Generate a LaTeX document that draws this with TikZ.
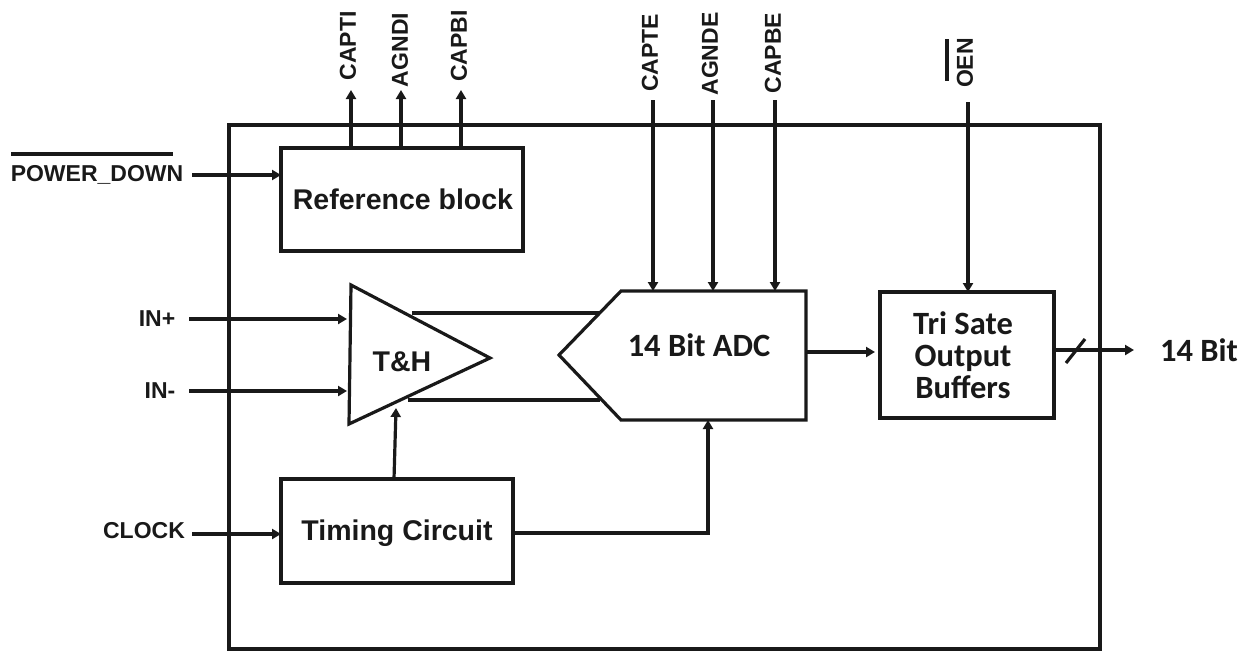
\documentclass[tikz,border=0pt]{standalone}
\usepackage{fontspec}
\setmainfont{Liberation Sans}
\newfontfamily\calib{Carlito}
\usetikzlibrary{arrows.meta}
\definecolor{ink}{gray}{0.1}
\tikzset{
 box/.style={draw=ink,line width=3.2pt,inner sep=0pt,outer sep=0pt,anchor=north west},
 line/.style={draw=ink,line width=3.2pt},
 arr/.style={line,-{Triangle[length=9pt,width=10pt]}},
 lab/.style={font=\bfseries\fontsize{23}{26}\selectfont,text=ink,inner sep=0pt},
 big/.style={font=\bfseries\fontsize{28.5}{32}\selectfont,text=ink,inner sep=0pt,align=center},
 cal/.style={font=\calib\bfseries\fontsize{32.5}{32}\selectfont,text=ink,inner sep=0pt,align=center},
}
\begin{document}
\begin{tikzpicture}[x=1pt,y=-1pt]
\useasboundingbox (0,0) rectangle (1257,654);
\node[box,minimum width=871,minimum height=524] (outer) at (229,125) {};
\node[box,minimum width=242,minimum height=103] (ref) at (281,148) {};
\node[big] (reft) at (403,199) {Reference block};
\node[box,minimum width=232,minimum height=104] (tim) at (281,479) {};
\node[big] (timt) at (397,533) {Timing Circuit};
\node[box,minimum width=174,minimum height=126] (tri) at (880,292) {};
\node[cal] (trit) at (963,355) {Tri Sate\\Output\\Buffers};
% ADC
\coordinate (a1) at (621,291); \coordinate (a2) at (806,291); \coordinate (a3) at (806,420);
\coordinate (a4) at (621,420); \coordinate (a5) at (559,355);
\draw[line] (a1)--(a2)--(a3)--(a4)--(a5)--cycle;
\node[cal] (adc) at (699,345) {14 Bit ADC};
% T&H
\coordinate (t1) at (351,285); \coordinate (t2) at (490,358); \coordinate (t3) at (349,424);
\draw[line] (t1)--(t2)--(t3)--cycle;
\node[big] (th) at (402,362) {T\&H};
\coordinate (l1a) at (412,313); \coordinate (l1b) at (600,313);
\coordinate (l2a) at (408,400); \coordinate (l2b) at (600,400);
\draw[line] (l1a)--(l1b); \draw[line] (l2a)--(l2b);
% labels
\node[lab] (pd) at (97,175) {POWER\_DOWN};
\coordinate (pda) at (11,154); \coordinate (pdb) at (173,154);
\draw[line] (pda)--(pdb);
\node[lab] (inp) at (157,319) {IN+};
\node[lab] (inm) at (160,391) {IN-};
\node[lab] (clk) at (144,531) {CLOCK};
\node[cal] (bit) at (1199,350) {14 Bit};
\foreach \n/\t/\x/\y in {capti/CAPTI/348/46,agndi/AGNDI/400/50,capbi/CAPBI/459/46,capte/CAPTE/650/53,agnde/AGNDE/710/54,capbe/CAPBE/773/53,oen/OEN/965/63}
 \node[lab,rotate=90] (\n) at (\x,\y) {\t};
\coordinate (oa) at (947,39); \coordinate (ob) at (947,81);
\draw[line] (oa)--(ob);
% arrows
\coordinate (c1e) at (351,90);
\coordinate (c2e) at (401,90);
\coordinate (c3e) at (461,90);
\draw[arr] (ref.north -| c1e)--(c1e); \draw[arr] (ref.north -| c2e)--(c2e); \draw[arr] (ref.north -| c3e)--(c3e);
\coordinate (d1) at (653,100);
\coordinate (d2) at (713,100);
\coordinate (d3) at (775,100);
\draw[arr] (d1)--(d1 |- a1); \draw[arr] (d2)--(d2 |- a1); \draw[arr] (d3)--(d3 |- a1);
\coordinate (o1) at (968,102);
\draw[arr] (o1)--(o1 |- tri.north);
\coordinate (p1) at (192,175);
\draw[arr] (p1)--(p1 -| ref.west);
\coordinate (i1) at (189,319); \coordinate (i1e) at (347,319);
\coordinate (i2) at (189,391); \coordinate (i2e) at (347,391);
\draw[arr] (i1)--(i1e); \draw[arr] (i2)--(i2e);
\coordinate (k1) at (192,534);
\draw[arr] (k1)--(k1 -| tim.west);
\coordinate (u1) at (394,479); \coordinate (u1e) at (396,408);
\draw[arr] (u1)--(u1e);
\coordinate (v1) at (513,533); \coordinate (v2) at (708,533); \coordinate (v3) at (708,420);
\draw[arr] (v1)--(v2)--(v3);
\coordinate (w1) at (806,352); \coordinate (w2) at (875,352);
\draw[arr] (w1)--(w2);
\coordinate (x1) at (1054,350); \coordinate (x2) at (1134,350);
\draw[arr] (x1)--(x2);
\coordinate (s1) at (1066,363); \coordinate (s2) at (1085,339);
\draw[line] (s1)--(s2);
\end{tikzpicture}
\end{document}
